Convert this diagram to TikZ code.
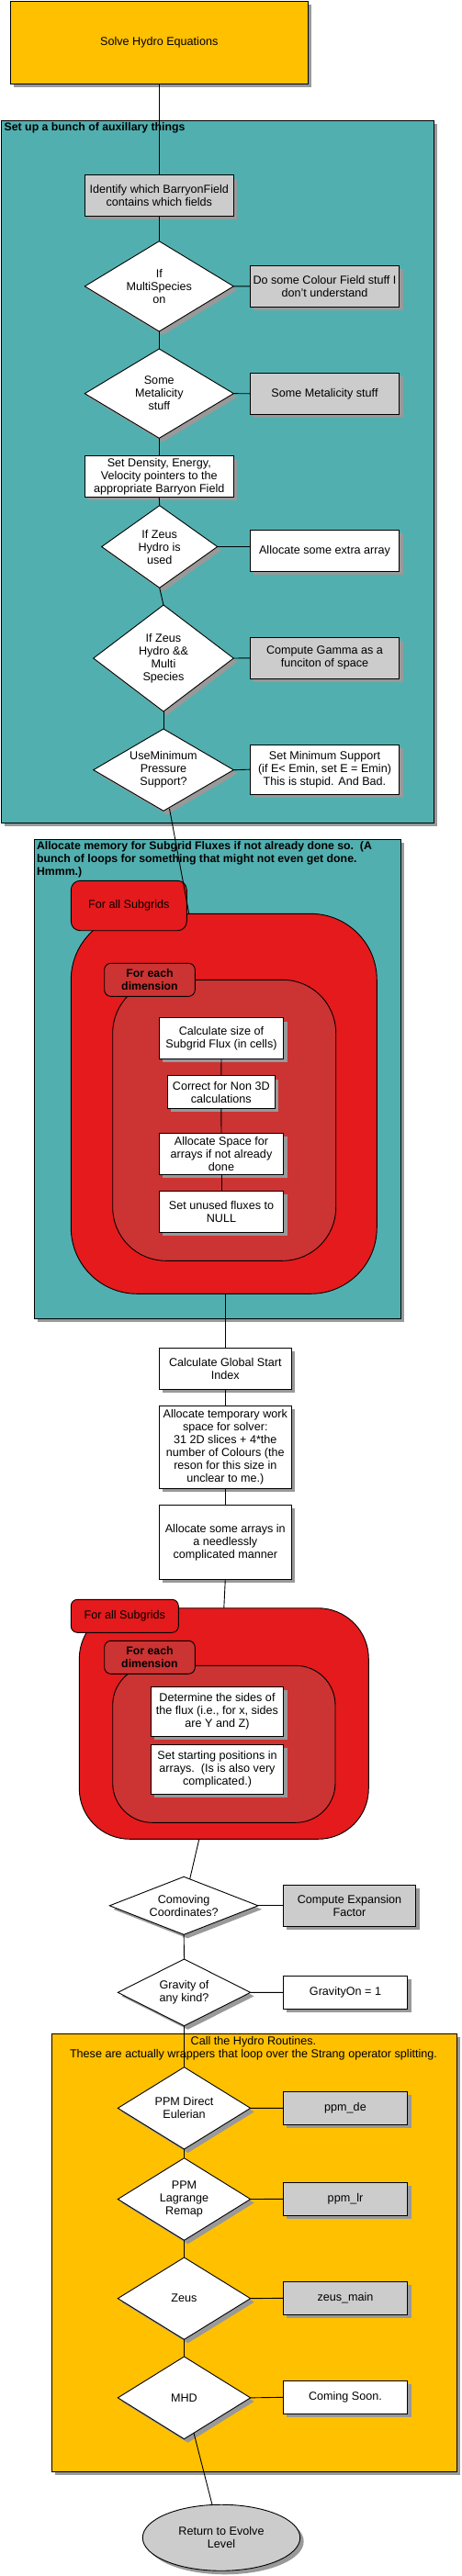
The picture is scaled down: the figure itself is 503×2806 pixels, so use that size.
\documentclass[tikz,border=0pt]{standalone}
\usepackage{fontspec}
\setmainfont{Liberation Sans}
\usetikzlibrary{shapes.geometric,shadows,calc}
\definecolor{hydroorange}{RGB}{255,192,0}
\definecolor{tealfill}{RGB}{82,175,175}
\definecolor{loopred}{RGB}{228,26,28}
\definecolor{innerred}{RGB}{204,51,51}
\definecolor{boxgray}{RGB}{204,204,204}
\definecolor{shgray}{RGB}{153,153,153}
\newcommand\dfont{\fontsize{12.6}{14}\selectfont}
\newcommand\tfont{\fontsize{12.3}{14}\selectfont\bfseries}
\begin{document}
\begin{tikzpicture}[x=1pt,y=-1pt,
  basenode/.style={draw=black, line width=0.9pt, inner sep=0pt, outer sep=0pt, align=center, font=\dfont},
  shad/.style={drop shadow={shadow xshift=4pt, shadow yshift=-4pt, fill=shgray, opacity=1}},
  gbox/.style={basenode, shad, rectangle, fill=boxgray},
  wbox/.style={basenode, shad, rectangle, fill=white},
  obox/.style={basenode, shad, rectangle, fill=hydroorange},
  tframe/.style={basenode, shad, rectangle, fill=tealfill},
  oframe/.style={basenode, shad, rectangle, fill=hydroorange},
  dec/.style={basenode, shad, diamond, fill=white},
  loopouter/.style={basenode, rectangle, fill=loopred},
  loopinner/.style={basenode, rectangle, fill=innerred},
  looplabel/.style={basenode, rectangle, rounded corners=#1},
  ftitle/.style={inner sep=0pt, outer sep=0pt, font=\tfont, align=left},
  conn/.style={draw=black, line width=0.9pt}
]
\useasboundingbox (0,0) rectangle (503,2806);

% top
\node[obox, minimum width=324, minimum height=90] (s) at (173.3,46.3) {Solve Hydro Equations};

% frame 1
\node[tframe, minimum width=471, minimum height=764.7] (f1) at (236.8,513.65) {};
\node[ftitle, anchor=north west] (f1t) at (4.7,133.8) {Set up a bunch of auxillary things};

\node[gbox, minimum width=162, minimum height=44.6] (id) at (173.3,213) {Identify which BarryonField\\contains which fields};
\node[dec, aspect=1.65, minimum width=162, minimum height=98.3] (d1) at (173.3,311.85) {If\\MultiSpecies\\on};
\node[gbox, minimum width=162.4, minimum height=45] (b1) at (353.5,311.8) {Do some Colour Field stuff I\\don't understand};
\node[dec, aspect=1.66, minimum width=162, minimum height=97.3] (d2) at (173.3,428.65) {Some\\Metalicity\\stuff};
\node[gbox, minimum width=162.4, minimum height=45] (b2) at (353.5,428.8) {Some Metalicity stuff};
\node[wbox, minimum width=162, minimum height=45] (b3) at (173.3,518.8) {Set Density, Energy,\\Velocity pointers to the\\appropriate Barryon Field};
\node[dec, aspect=1.4, minimum width=126, minimum height=89.6] (d3) at (173.7,595.5) {If Zeus\\Hydro is\\used};
\node[wbox, minimum width=162.4, minimum height=45] (b4) at (353.5,599.8) {Allocate some extra array};
\node[dec, aspect=1.32, minimum width=152.6, minimum height=116] (d4) at (178,717) {If Zeus\\Hydro \&\&\\Multi\\Species};
\node[gbox, minimum width=162.4, minimum height=45] (b5) at (353.5,716.8) {Compute Gamma as a\\funciton of space};
\node[dec, aspect=1.71, minimum width=152.6, minimum height=89.3] (d5) at (178,838.65) {UseMinimum\\Pressure\\Support?};
\node[wbox, minimum width=162.4, minimum height=54.3] (b6) at (353.5,838.15) {Set Minimum Support\\(if E< Emin, set E = Emin)\\This is stupid. And Bad.};

% frame 2
\node[tframe, minimum width=399, minimum height=521.7] (f2) at (236.8,1175.15) {};
\node[ftitle, anchor=north west] (f2t) at (40,916.8) {Allocate memory for Subgrid Fluxes if not already done so.\ \ (A\\bunch of loops for something that might not even get done.\\Hmmm.)};

\node[loopouter, rounded corners=72pt, minimum width=333, minimum height=414] (lp1) at (243.8,1202.3) {};
\node[looplabel=10pt, fill=loopred, minimum width=126, minimum height=54.4] (lb1) at (140.3,986.5) {For all Subgrids};
\node[loopinner, rounded corners=58pt, minimum width=243, minimum height=306] (in1) at (244.2,1220.3) {};
\node[looplabel=7pt, fill=innerred, minimum width=98.6, minimum height=36, font=\tfont] (le1) at (163,1067.3) {For each\\dimension};

\node[wbox, minimum width=135.4, minimum height=44.6] (ba) at (241,1131) {Calculate size of\\Subgrid Flux (in cells)};
\node[wbox, minimum width=117, minimum height=35.6] (bb) at (240.8,1189.5) {Correct for Non 3D\\calculations};
\node[wbox, minimum width=135.4, minimum height=45] (bc) at (241,1256.8) {Allocate Space for\\arrays if not already\\done};
\node[wbox, minimum width=135.4, minimum height=45] (bd) at (241,1319.8) {Set unused fluxes to\\NULL};

% middle
\node[wbox, minimum width=144, minimum height=45] (g1) at (245.3,1490.8) {Calculate Global Start\\Index};
\node[wbox, minimum width=144, minimum height=90] (g2) at (245.3,1576.3) {Allocate temporary work\\space for solver:\\31 2D slices + 4*the\\number of Colours (the\\reson for this size in\\unclear to me.)};
\node[wbox, minimum width=144, minimum height=81] (g3) at (245.3,1679.8) {Allocate some arrays in\\a needlessly\\complicated manner};

% loop 2
\node[loopouter, rounded corners=55pt, minimum width=315, minimum height=251.6] (lp2) at (243.8,1877.5) {};
\node[looplabel=7pt, fill=loopred, minimum width=117, minimum height=36] (lb2) at (135.8,1760.3) {For all Subgrids};
\node[loopinner, rounded corners=43pt, minimum width=242.3, minimum height=171] (in2) at (243.85,1899.8) {};
\node[looplabel=7pt, fill=innerred, minimum width=98.6, minimum height=36, font=\tfont] (le2) at (163,1805.3) {For each\\dimension};
\node[wbox, minimum width=144.4, minimum height=54] (be) at (236.5,1864.3) {Determine the sides of\\the flux (i.e., for x, sides\\are Y and Z)};
\node[wbox, minimum width=144.4, minimum height=54] (bf) at (236.5,1927.3) {Set starting positions in\\arrays.\ \ (Is is also very\\complicated.)};

% lower decisions
\node[dec, aspect=2.57, minimum width=161.7, minimum height=63] (d6) at (200.15,2075.8) {Comoving\\Coordinates?};
\node[gbox, minimum width=144.4, minimum height=45] (b7) at (380.5,2075.8) {Compute Expansion\\Factor};
\node[dec, aspect=1.99, minimum width=144.4, minimum height=72.7] (d7) at (200.5,2170.35) {Gravity of\\any kind?};
\node[wbox, minimum width=135.4, minimum height=36] (b8) at (376,2170.3) {GravityOn = 1};

% frame 3
\node[oframe, minimum width=441, minimum height=477] (f3) at (276.8,2453.8) {};
\node[inner sep=0pt, outer sep=0pt, font=\dfont, align=center, anchor=north] (f3t) at (276,2218.8) {Call the Hydro Routines.\\These are actually wrappers that loop over the Strang operator splitting.};

\node[dec, aspect=1.62, minimum width=144.4, minimum height=89.3] (d8) at (200.5,2296.35) {PPM Direct\\Eulerian};
\node[gbox, minimum width=135.4, minimum height=36] (b9) at (376,2296.3) {ppm\_de};
\node[dec, aspect=1.61, minimum width=144.4, minimum height=89.6] (d9) at (200.5,2395.5) {PPM\\Lagrange\\Remap};
\node[gbox, minimum width=135.4, minimum height=36] (b10) at (376,2395.3) {ppm\_lr};
\node[dec, aspect=1.62, minimum width=144.4, minimum height=89.3] (d10) at (200.5,2503.65) {Zeus};
\node[gbox, minimum width=135.4, minimum height=36] (b11) at (376,2503.3) {zeus\_main};
\node[dec, aspect=1.61, minimum width=144.4, minimum height=89.7] (d11) at (200.5,2611.85) {MHD};
\node[wbox, minimum width=135.4, minimum height=36] (b12) at (376,2611.3) {Coming Soon.};

\node[basenode, shad, ellipse, fill=boxgray, minimum width=171.4, minimum height=72] (rt) at (241,2764.25) {Return to Evolve\\Level};

% connectors
\draw[conn] (s.south) -- (id.north);
\draw[conn] (id.south) -- (d1.north);
\draw[conn] (d1.east) -- (b1.west);
\draw[conn] (d1.south) -- (d2.north);
\draw[conn] (d2.east) -- (b2.west);
\draw[conn] (d2.south) -- (b3.north);
\draw[conn] (b3.south) -- (d3.north);
\draw[conn] (d3.east) -- (d3.east -| b4.west);
\draw[conn] (d3.south) -- (d4.north);
\draw[conn] (d4.east) -- (b5.west);
\draw[conn] (d4.south) -- (d5.north);
\draw[conn] (d5.east) -- (b6.west);
\draw[conn] ([shift={(6.5,-2.5)}]d5.south) -- ([xshift=-38pt]lp1.north);
\draw[conn] (ba.south) -- (bb.north);
\draw[conn] (bb.south) -- (bc.north);
\draw[conn] (bc.south) -- (bd.north);
\draw[conn] (lp1.south -| g1.north) -- (g1.north);
\draw[conn] (g1.south) -- (g2.north);
\draw[conn] (g2.south) -- (g3.north);
\draw[conn] (g3.south) -- (lp2.north);
\draw[conn] ([xshift=-27pt]lp2.south) -- ([shift={(6.5,2.6)}]d6.north);
\draw[conn] (d6.east) -- (b7.west);
\draw[conn] (d6.south) -- (d7.north);
\draw[conn] (d7.east) -- (b8.west);
\draw[conn] (d7.south) -- (d8.north);
\draw[conn] (d8.east) -- (b9.west);
\draw[conn] (d8.south) -- (d9.north);
\draw[conn] (d9.east) -- (b10.west);
\draw[conn] (d9.south) -- (d10.north);
\draw[conn] (d10.east) -- (b11.west);
\draw[conn] (d10.south) -- (d11.north);
\draw[conn] (d11.east) -- (b12.west);
\draw[conn] ([shift={(10.5,-6.5)}]d11.south) -- ([xshift=-10pt]rt.north);
\end{tikzpicture}
\end{document}
